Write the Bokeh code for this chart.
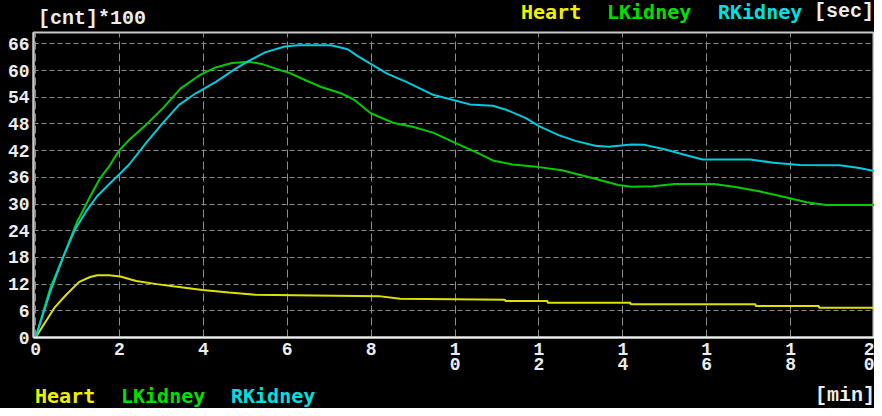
from bokeh.plotting import figure
from bokeh.models import Range1d, FixedTicker, Div
from bokeh.layouts import column
from bokeh.embed import file_html
from bokeh.resources import INLINE

# ---- data (time in min, counts x100) ----
heart_t = [0, 0.45, 0.73, 1.04, 1.3, 1.47, 1.75, 2.02, 2.4, 2.89, 3.28, 3.98, 4.61, 5.24,
           6.18, 8.18, 8.69, 11.19, 11.2, 12.2, 12.21, 14.18, 14.19, 17.16, 17.17, 18.67, 18.68, 20]
heart_v = [0, 6.7, 9.6, 12.5, 13.6, 14.0, 14.0, 13.7, 12.7, 12.0, 11.5, 10.7, 10.1, 9.6,
           9.5, 9.3, 8.7, 8.5, 8.2, 8.2, 7.8, 7.8, 7.5, 7.5, 7.1, 7.1, 6.7, 6.7]

lk_t = [0, 0.35, 0.67, 0.98, 1.30, 1.53, 1.77, 1.99, 2.24, 2.64, 3.03, 3.46, 3.90, 4.29,
        4.68, 5.08, 5.39, 5.86, 6.02, 6.49, 6.81, 7.28, 7.60, 7.99, 8.54, 9.01, 9.49, 10.04,
        10.51, 10.90, 11.37, 12.0, 12.55, 12.87, 13.34, 13.89, 14.21, 14.72, 15.23, 16.17,
        16.65, 17.28, 17.75, 18.38, 18.85, 20]
lk_v = [0, 11.1, 18.4, 25.8, 31.7, 35.7, 38.7, 42.0, 44.5, 47.9, 51.5, 56.0, 58.9, 60.7,
        61.7, 62.0, 61.5, 60.0, 59.6, 57.6, 56.3, 54.9, 53.4, 50.4, 48.2, 47.3, 46.0, 43.6,
        41.6, 39.8, 38.9, 38.3, 37.6, 36.8, 35.7, 34.3, 33.9, 34.0, 34.5, 34.5,
        33.9, 32.8, 31.8, 30.4, 29.8, 29.8]

rk_t = [0, 0.35, 0.67, 0.94, 1.18, 1.46, 1.77, 2.01, 2.24, 2.64, 3.03, 3.42, 3.82, 4.29,
        4.76, 5.08, 5.47, 5.94, 6.26, 7.04, 7.44, 7.67, 7.99, 8.38, 8.85, 9.49, 9.96, 10.35,
        10.9, 11.22, 11.69, 12.0, 12.47, 12.87, 13.34, 13.66, 14.21, 14.52, 14.99, 15.47,
        15.9, 17.04, 17.59, 18.22, 19.17, 19.64, 20]
rk_v = [0, 10.3, 18.4, 24.3, 28.0, 31.7, 34.6, 36.8, 39.0, 43.8, 48.2, 52.3, 54.9, 57.4,
        60.4, 62.2, 64.1, 65.4, 65.7, 65.7, 64.8, 63.3, 61.5, 59.3, 57.4, 54.5, 53.4, 52.4,
        52.1, 51.2, 49.3, 47.5, 45.5, 44.2, 43.1, 42.9, 43.4, 43.3, 42.3, 41.1,
        40.0, 40.0, 39.3, 38.8, 38.7, 38.1, 37.4]

y_ticks = [0, 6, 12, 18, 24, 30, 36, 42, 48, 54, 60, 66]
x_ticks = [0, 2, 4, 6, 8, 10, 12, 14, 16, 18, 20]
x_tick_labels = ["0", "2", "4", "6", "8", "1\n0", "1\n2", "1\n4", "1\n6", "1\n8", "2\n0"]

series_names = ["Heart", "LKidney", "RKidney"]
line_colors = ["#e0e000", "#00cc00", "#00ccdd"]
text_colors = ["#f0f000", "#00e000", "#00e0e0"]
y_unit_label = "[cnt]*100"
x_unit_top = "[sec]"
x_unit_bottom = "[min]"

MONO = "Liberation Mono"
MONO2 = "DejaVu Sans Mono"
W = 874

p = figure(frame_width=841, frame_height=305,
           min_border_left=33, min_border_right=0, min_border_top=1, min_border_bottom=48,
           x_range=Range1d(-0.05, 20.0), y_range=Range1d(0, 68.56),
           output_backend="svg", toolbar_location=None, margin=0)

p.background_fill_color = "black"
p.border_fill_color = "black"
p.outline_line_color = "#c8c8c8"
p.outline_line_width = 2

for ax in (p.xaxis[0], p.yaxis[0]):
    ax.major_tick_in = 0
    ax.major_tick_out = 0
    ax.minor_tick_in = 0
    ax.minor_tick_out = 0
    ax.major_label_text_font = MONO
    ax.major_label_text_font_style = "bold"
    ax.major_label_text_font_size = "18px"
    ax.major_label_text_color = "#ececec"

p.yaxis.ticker = FixedTicker(ticks=y_ticks)
p.xaxis.ticker = FixedTicker(ticks=x_ticks)
p.xaxis.major_label_overrides = {t: s for t, s in zip(x_ticks, x_tick_labels)}
p.xaxis.major_label_text_line_height = 0.75
p.yaxis.major_label_standoff = 4
p.xaxis.major_label_standoff = 2
p.xaxis.axis_line_color = "#f0f0f0"
p.xaxis.axis_line_width = 2
p.yaxis.axis_line_color = "#c8c8c8"
p.yaxis.axis_line_width = 2

p.xgrid.grid_line_color = "#8c8c8c"
p.xgrid.grid_line_dash = "8 4"
p.ygrid.grid_line_color = "#8c8c8c"
p.ygrid.grid_line_dash = "5 3"

for (tt, vv), c in zip([(heart_t, heart_v), (lk_t, lk_v), (rk_t, rk_v)], line_colors):
    p.line(tt, vv, line_color=c, line_width=2)


def span(txt, left, top, color, font):
    return (f'<span style="position:absolute;left:{left}px;top:{top}px;color:{color};'
            f"font-family:'{font}';font-weight:bold;font-size:20px;line-height:20px;"
            f'white-space:pre;">{txt}</span>')


def row_div(spans, h):
    html = (f'<div style="position:relative;width:{W}px;height:{h}px;overflow:hidden;'
            f'background:#000;">' + "".join(spans) + "</div>")
    return Div(text=html, width=W, height=h, margin=0,
               styles={"background-color": "black", "font-size": "0px",
                       "line-height": "0px", "overflow": "hidden"})


top_x = [521, 607, 718]
bot_x = [35, 121, 231]
top_spans = [span(y_unit_label, 38, 9, "#ececec", MONO)]
bot_spans = []
for name, c, tx, bx in zip(series_names, text_colors, top_x, bot_x):
    top_spans.append(span(name, tx, 2, c, MONO2))
    bot_spans.append(span(name, bx, 1, c, MONO2))
top_spans.append(span(x_unit_top, 814, 2, "#ececec", MONO))
bot_spans.append(span(x_unit_bottom, 815, 1, "#ececec", MONO))

layout = column(row_div(top_spans, 31), p, row_div(bot_spans, 23), spacing=0, margin=0,
                styles={"background-color": "black"})

open("out.html", "w").write(file_html(layout, INLINE))
